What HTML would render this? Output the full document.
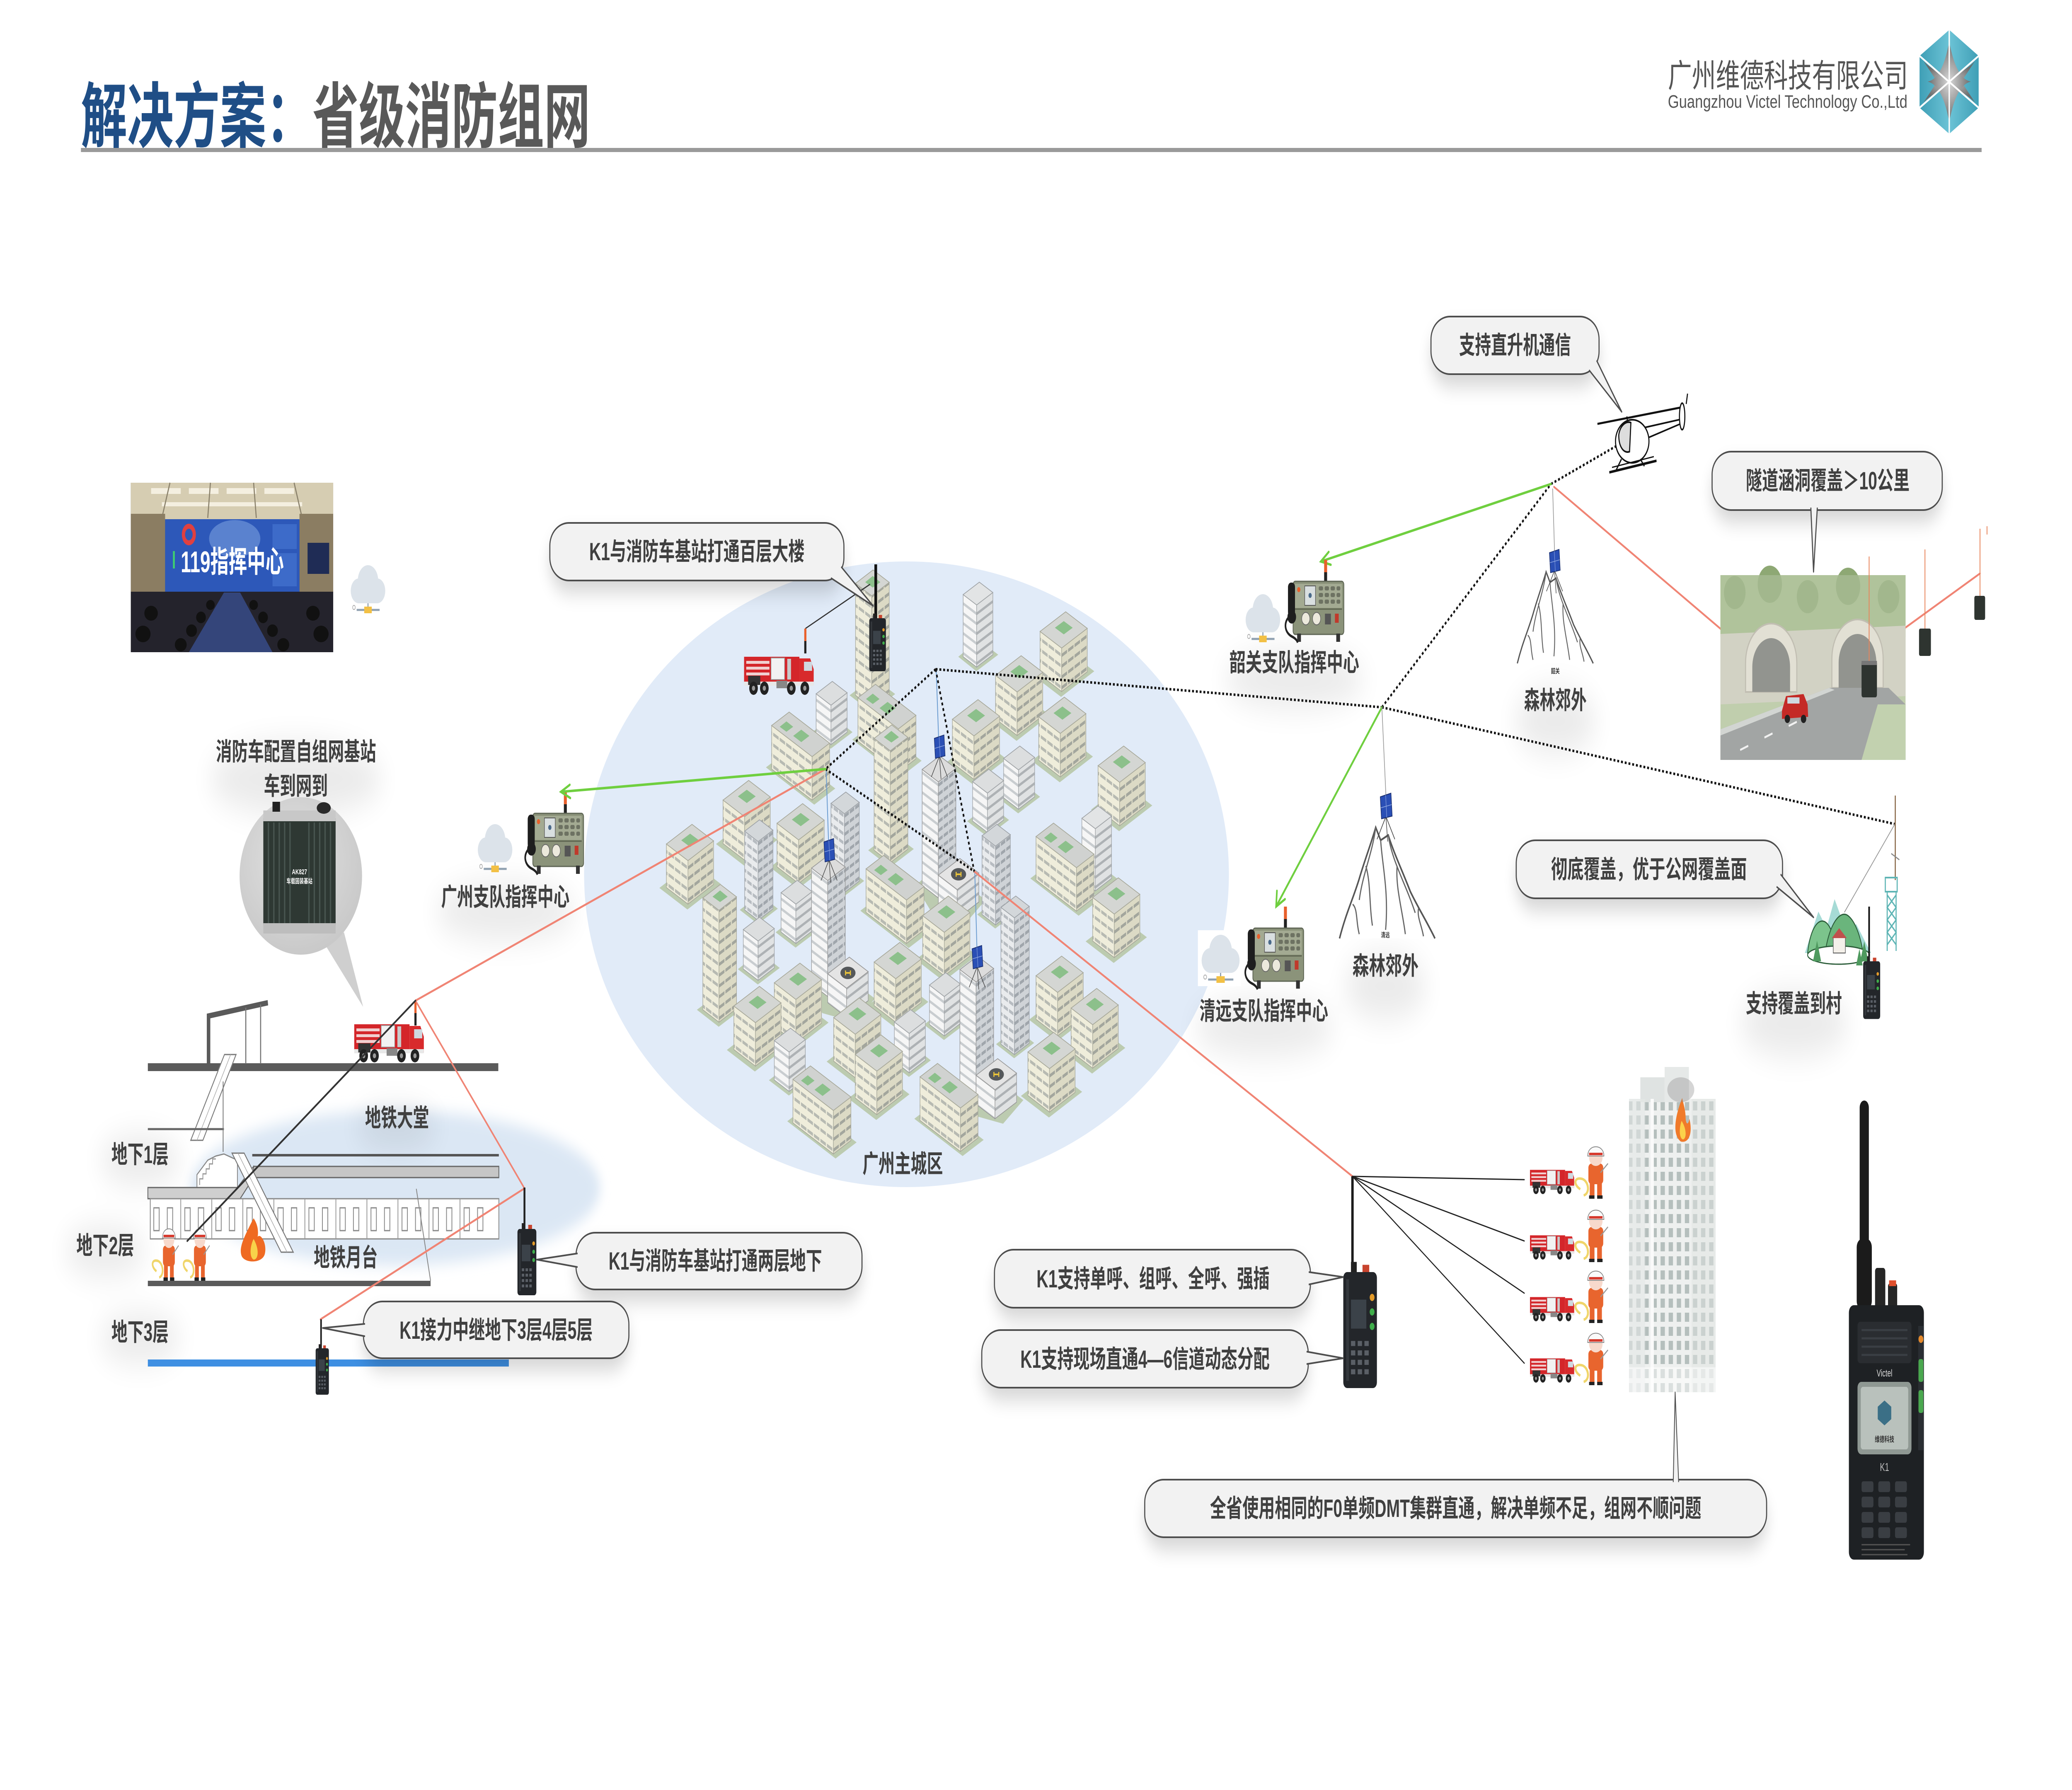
<!DOCTYPE html>
<html><head><meta charset="utf-8"><style>
html,body{margin:0;padding:0;background:#fff;width:100%;height:100%;overflow:hidden;}
svg{display:block;width:100vw;height:100vh;font-family:"Liberation Sans","Noto Sans CJK SC",sans-serif;}
.lb{font-size:60px;font-weight:700;fill:#404040;}
</style></head><body>
<svg viewBox="0 0 7680 4320" preserveAspectRatio="none" xmlns="http://www.w3.org/2000/svg" xmlns:xlink="http://www.w3.org/1999/xlink">
<defs>
<filter id="bl" x="-30%" y="-50%" width="160%" height="200%"><feGaussianBlur stdDeviation="25"/></filter>
<filter id="bl2" x="-30%" y="-80%" width="160%" height="260%"><feGaussianBlur stdDeviation="40"/></filter>
<filter id="bl3" x="-10%" y="-30%" width="120%" height="160%"><feGaussianBlur stdDeviation="18"/></filter>
<radialGradient id="gcirc" cx="0.45" cy="0.4" r="0.6"><stop offset="0" stop-color="#e2e2e2"/><stop offset="1" stop-color="#c9c9c9"/></radialGradient>
<linearGradient id="logoG" x1="0" y1="0" x2="1" y2="0"><stop offset="0" stop-color="#3f9fb6"/><stop offset="0.5" stop-color="#6cc3d6"/><stop offset="1" stop-color="#3f9fb6"/></linearGradient>
<radialGradient id="logoC" cx="0.5" cy="0.5" r="0.5"><stop offset="0" stop-color="#d8d8d8"/><stop offset="1" stop-color="#6b6b6b"/></radialGradient>
<pattern id="pBL" patternUnits="userSpaceOnUse" width="24" height="26" patternTransform="skewY(26.565)"><rect width="24" height="26" fill="#efeddb"/><rect y="13" width="24" height="8" fill="#b7bab2"/><rect x="20" y="13" width="4" height="8" fill="#efeddb"/></pattern>
<pattern id="pBR" patternUnits="userSpaceOnUse" width="24" height="26" patternTransform="skewY(-26.565)"><rect width="24" height="26" fill="#dcdac5"/><rect y="13" width="24" height="8" fill="#a3a69d"/><rect x="20" y="13" width="4" height="8" fill="#dcdac5"/></pattern>
<pattern id="pGL" patternUnits="userSpaceOnUse" width="20" height="22" patternTransform="skewY(26.565)"><rect width="20" height="22" fill="#e9ebed"/><rect y="10" width="20" height="8" fill="#b7bcc1"/><rect x="16" y="10" width="4" height="8" fill="#e9ebed"/></pattern>
<pattern id="pGR" patternUnits="userSpaceOnUse" width="20" height="22" patternTransform="skewY(-26.565)"><rect width="20" height="22" fill="#cfd3d7"/><rect y="10" width="20" height="8" fill="#a0a6ac"/><rect x="16" y="10" width="4" height="8" fill="#cfd3d7"/></pattern>
<pattern id="pWL" patternUnits="userSpaceOnUse" width="20" height="24" patternTransform="skewY(26.565)"><rect width="20" height="24" fill="#f6f6f6"/><rect y="12" width="20" height="7" fill="#c9cdd0"/></pattern>
<pattern id="pWR" patternUnits="userSpaceOnUse" width="20" height="24" patternTransform="skewY(-26.565)"><rect width="20" height="24" fill="#e0e2e3"/><rect y="12" width="20" height="7" fill="#aeb2b5"/></pattern>
<pattern id="winB" patternUnits="userSpaceOnUse" width="30" height="34"><rect width="30" height="34" fill="#eef0ef"/><rect x="5" y="6" width="16" height="22" fill="#b5bfbd"/></pattern>

<g id="b1">
<polygon points="-2,13 -106,-39 17,-101 121,-49" fill="#bccbb0"/>
<polygon points="0,0 -80,-40 -80,-145 0,-105" fill="url(#pBL)" stroke="#a8a99b" stroke-width="2"/>
<polygon points="0,0 95,-47.5 95,-152.5 0,-105" fill="url(#pBR)" stroke="#a8a99b" stroke-width="2"/>
<polygon points="0,-105 -80,-145 15,-192.5 95,-152.5" fill="#d4d6d3" stroke="#a8a99b" stroke-width="2"/>
<polygon points="8,-138 -25,-154 8,-170 41,-154" fill="#8cc08b"/>
</g>
<g id="b2">
<polygon points="-1,9 -68,-25 6,-62 73,-28" fill="#bccbb0"/>
<polygon points="0,0 -50,-25 -50,-355 0,-330" fill="url(#pGL)" stroke="#9ea3a8" stroke-width="2"/>
<polygon points="0,0 55,-27.5 55,-357.5 0,-330" fill="url(#pGR)" stroke="#9ea3a8" stroke-width="2"/>
<polygon points="0,-330 -50,-355 5,-382.5 55,-357.5" fill="#d3d7da" stroke="#9ea3a8" stroke-width="2"/>
</g>
<g id="b8">
<polygon points="-1,9 -68,-25 6,-62 73,-28" fill="#bccbb0"/>
<polygon points="0,0 -50,-25 -50,-215 0,-190" fill="url(#pGL)" stroke="#9ea3a8" stroke-width="2"/>
<polygon points="0,0 55,-27.5 55,-217.5 0,-190" fill="url(#pGR)" stroke="#9ea3a8" stroke-width="2"/>
<polygon points="0,-190 -50,-215 5,-242.5 55,-217.5" fill="#d3d7da" stroke="#9ea3a8" stroke-width="2"/>
</g>
<g id="b3">
<polygon points="-1,11 -82,-30 6,-73 87,-33" fill="#bccbb0"/>
<polygon points="0,0 -60,-30 -60,-300 0,-270" fill="url(#pBL)" stroke="#a8a99b" stroke-width="2"/>
<polygon points="0,0 65,-32.5 65,-302.5 0,-270" fill="url(#pBR)" stroke="#a8a99b" stroke-width="2"/>
<polygon points="0,-270 -60,-300 5,-332.5 65,-302.5" fill="#d4d6d3" stroke="#a8a99b" stroke-width="2"/>
<polygon points="4,-290 -24,-303 4,-318 32,-303" fill="#8cc08b"/>
</g>
<g id="b4">
<polygon points="-1,10 -75,-27 6,-68 80,-30" fill="#bccbb0"/>
<polygon points="0,0 -55,-27.5 -55,-122.5 0,-95" fill="url(#pWL)" stroke="#a0a4a7" stroke-width="2"/>
<polygon points="0,0 60,-30 60,-125 0,-95" fill="url(#pWR)" stroke="#a0a4a7" stroke-width="2"/>
<polygon points="0,-95 -55,-122.5 5,-152.5 60,-125" fill="#dcdedf" stroke="#a0a4a7" stroke-width="2"/>
</g>
<g id="b5">
<polygon points="8,11 -171,-79 -93,-118 86,-28" fill="#bccbb0"/>
<polygon points="0,0 -150,-75 -150,-180 0,-105" fill="url(#pBL)" stroke="#a8a99b" stroke-width="2"/>
<polygon points="0,0 65,-32.5 65,-137.5 0,-105" fill="url(#pBR)" stroke="#a8a99b" stroke-width="2"/>
<polygon points="0,-105 -150,-180 -85,-212.5 65,-137.5" fill="#d0d2d0" stroke="#a8a99b" stroke-width="2"/>
<polygon points="-40,-140 -70,-155 -40,-170 -10,-155" fill="#8cc08b"/>
<polygon points="-95,-165 -120,-177 -95,-190 -70,-177" fill="#8cc08b"/>
</g>
<g id="b6">
<polygon points="-20,40 -85,-30 5,-80 175,5 100,62" fill="#bccbb0"/>
<polygon points="0,0 -60,-30 -60,-310 0,-280" fill="url(#pWL)" stroke="#999" stroke-width="2"/>
<polygon points="0,0 65,-32.5 65,-312.5 0,-280" fill="url(#pGR)" stroke="#999" stroke-width="2"/>
<polygon points="0,-280 -60,-310 5,-342.5 65,-312.5" fill="#dcdcdc" stroke="#999" stroke-width="2"/>
<polygon points="70,50 0,15 0,-55 70,-20" fill="url(#pWL)" stroke="#999" stroke-width="2"/>
<polygon points="70,50 150,10 150,-60 70,-20" fill="url(#pWR)" stroke="#999" stroke-width="2"/>
<polygon points="70,-20 0,-55 80,-95 150,-60" fill="#e4e4e4" stroke="#999" stroke-width="2"/>
<ellipse cx="75" cy="-57" rx="28" ry="15" fill="#55585a"/>
<path d="M66,-63 V-51 M84,-63 V-51 M66,-57 H84" stroke="#e8c23a" stroke-width="4"/>
</g>
<g id="b7">
<polygon points="-1,10 -68,-25 8,-66 80,-30" fill="#bccbb0"/>
<polygon points="0,0 -50,-25 -50,-175 0,-150" fill="url(#pWL)" stroke="#a0a4a7" stroke-width="2"/>
<polygon points="0,0 60,-30 60,-180 0,-150" fill="url(#pWR)" stroke="#a0a4a7" stroke-width="2"/>
<polygon points="0,-150 -50,-175 10,-205 60,-180" fill="#e2e4e5" stroke="#a0a4a7" stroke-width="2"/>
</g>

<g id="truck">
<rect x="0" y="10" width="205" height="62" fill="#d4262a"/>
<rect x="8" y="20" width="86" height="7" fill="#f0d0d0"/>
<rect x="8" y="34" width="86" height="7" fill="#f0d0d0"/>
<rect x="8" y="48" width="86" height="7" fill="#f0d0d0"/>
<rect x="100" y="13" width="50" height="52" fill="#f2f2f2" stroke="#999" stroke-width="2"/>
<rect x="160" y="15" width="14" height="50" fill="#c9c9c9"/>
<path d="M205,14 H245 L258,40 V78 H205Z" fill="#d82a2c"/>
<rect x="222" y="22" width="30" height="22" fill="#cfd9e0"/>
<rect x="0" y="70" width="258" height="10" fill="#e8e8e8"/>
<rect x="15" y="56" width="45" height="22" fill="#333"/>
<rect x="120" y="68" width="40" height="18" fill="#888"/>
<circle cx="35" cy="86" r="16" fill="#222"/><circle cx="75" cy="86" r="16" fill="#222"/><circle cx="175" cy="86" r="16" fill="#222"/><circle cx="225" cy="86" r="16" fill="#222"/>
<circle cx="35" cy="86" r="6" fill="#999"/><circle cx="75" cy="86" r="6" fill="#999"/><circle cx="175" cy="86" r="6" fill="#999"/><circle cx="225" cy="86" r="6" fill="#999"/>
</g>
<g id="radio">
<rect x="16" y="-14" width="12" height="16" fill="#222"/>
<rect x="40" y="-10" width="14" height="12" fill="#c8442e"/>
<rect x="0" y="0" width="70" height="160" rx="8" fill="#23262a"/>
<rect x="6" y="10" width="6" height="140" fill="#34383d"/>
<rect x="16" y="38" width="32" height="40" fill="#3b4249"/>
<circle cx="60" cy="35" r="5" fill="#e39b2a"/><circle cx="60" cy="55" r="5" fill="#3fae4b"/><circle cx="60" cy="75" r="5" fill="#3fae4b"/>
<g fill="#5a5f66"><rect x="16" y="95" width="9" height="7"/><rect x="30" y="95" width="9" height="7"/><rect x="44" y="95" width="9" height="7"/><rect x="16" y="108" width="9" height="7"/><rect x="30" y="108" width="9" height="7"/><rect x="44" y="108" width="9" height="7"/><rect x="16" y="121" width="9" height="7"/><rect x="30" y="121" width="9" height="7"/><rect x="44" y="121" width="9" height="7"/><rect x="16" y="134" width="9" height="7"/><rect x="30" y="134" width="9" height="7"/><rect x="44" y="134" width="9" height="7"/></g>
</g>
<g id="cmd">
<rect x="160" y="0" width="11" height="30" fill="#e8602c"/>
<rect x="160" y="30" width="11" height="25" fill="#222"/>
<rect x="45" y="52" width="188" height="128" rx="8" fill="#8b937a" stroke="#5f6655" stroke-width="3"/>
<rect x="52" y="58" width="174" height="58" fill="#a3aa92"/>
<rect x="88" y="63" width="40" height="47" fill="#d9dfe0" stroke="#555" stroke-width="2"/>
<circle cx="108" cy="86" r="6" fill="#4a6a8a"/>
<g fill="#6d7262"><rect x="140" y="64" width="16" height="10" rx="4"/><rect x="162" y="64" width="16" height="10" rx="4"/><rect x="184" y="64" width="16" height="10" rx="4"/><rect x="206" y="64" width="14" height="10" rx="4"/><rect x="140" y="80" width="16" height="10" rx="4"/><rect x="162" y="80" width="16" height="10" rx="4"/><rect x="184" y="80" width="16" height="10" rx="4"/><rect x="206" y="80" width="14" height="10" rx="4"/><rect x="140" y="96" width="16" height="10" rx="4"/><rect x="162" y="96" width="16" height="10" rx="4"/><rect x="184" y="96" width="16" height="10" rx="4"/><rect x="206" y="96" width="14" height="10" rx="4"/></g>
<line x1="52" y1="119" x2="226" y2="119" stroke="#5c634f" stroke-width="3"/>
<circle cx="92" cy="142" r="15" fill="#ece9dc" stroke="#666" stroke-width="2"/><circle cx="132" cy="142" r="15" fill="#ece9dc" stroke="#666" stroke-width="2"/>
<rect x="163" y="130" width="22" height="26" fill="#555"/>
<rect x="200" y="130" width="14" height="22" fill="#c0392b"/>
<rect x="60" y="178" width="14" height="20" fill="#333"/><rect x="205" y="178" width="14" height="20" fill="#333"/>
<rect x="26" y="55" width="26" height="82" rx="11" fill="#1e1e1e"/>
<circle cx="40" cy="138" r="16" fill="#1e1e1e"/>
<path d="M30,138 C10,150 12,175 40,185 C55,190 60,195 62,200" fill="none" stroke="#222" stroke-width="6"/>
<circle cx="66" cy="72" r="6" fill="#e8602c"/>
</g>
<g id="cloud">
<circle cx="72" cy="42" r="38" fill="#dce3ea"/>
<circle cx="38" cy="66" r="30" fill="#dce3ea"/>
<circle cx="106" cy="66" r="30" fill="#dce3ea"/>
<rect x="38" y="55" width="68" height="41" fill="#dce3ea"/>
<line x1="72" y1="96" x2="72" y2="112" stroke="#8fa0b0" stroke-width="4"/>
<line x1="30" y1="112" x2="115" y2="112" stroke="#8fa0b0" stroke-width="5"/>
<rect x="58" y="104" width="28" height="16" fill="#f2c045"/>
<circle cx="20" cy="106" r="5" fill="none" stroke="#aaa" stroke-width="2"/>
</g>
<g id="mtn">
<path d="M0,260 C20,200 40,170 60,120 C75,80 95,40 110,0 L125,30 L148,18 C165,60 190,100 215,150 C240,190 265,220 290,260" fill="#fff" stroke="#555" stroke-width="4.5"/>
<path d="M110,0 C100,60 70,110 60,170 M125,30 C130,90 150,150 140,240 M148,18 C160,80 200,130 230,200 M80,90 C95,130 90,180 100,230 M175,90 C170,140 190,190 200,250 M40,180 C55,190 50,220 60,250 M240,190 C235,210 250,230 255,255" fill="none" stroke="#666" stroke-width="3.5"/>
</g>
<g id="solar">
<line x1="0" y1="-5" x2="-30" y2="45" stroke="#444" stroke-width="2"/><line x1="0" y1="-5" x2="30" y2="45" stroke="#444" stroke-width="2"/><line x1="0" y1="-5" x2="6" y2="50" stroke="#444" stroke-width="2"/>
<polygon points="-19,-48 17,-56 21,-6 -15,0" fill="#2a4fb5" stroke="#1a2f70" stroke-width="2"/>
<path d="M-17,-24 L19,-31 M-1,-52 L3,-3" stroke="#8fa8e0" stroke-width="1.5"/>
</g>
<g id="ff">
<path d="M-10,110 C-30,100 -30,80 -5,85 C15,90 20,120 0,125" fill="none" stroke="#f0d56a" stroke-width="6"/>
<rect x="14" y="48" width="44" height="50" rx="10" fill="#e8652e"/>
<rect x="18" y="95" width="14" height="32" fill="#e8652e"/><rect x="40" y="95" width="14" height="32" fill="#e8652e"/>
<rect x="16" y="125" width="16" height="8" fill="#222"/><rect x="40" y="125" width="16" height="8" fill="#222"/>
<circle cx="36" cy="34" r="20" fill="#f7d9cc"/>
<path d="M12,30 C12,0 60,0 60,30 Z" fill="#fafafa" stroke="#888" stroke-width="2"/>
<rect x="16" y="22" width="40" height="6" fill="#d63a2e"/>
<line x1="50" y1="70" x2="72" y2="48" stroke="#999" stroke-width="3"/>
</g>
</defs>

<rect width="7680" height="4320" fill="#ffffff"/>

<!-- HEADER -->
<text x="300" y="342" font-size="172" font-weight="700" textLength="1888" lengthAdjust="spacingAndGlyphs"><tspan fill="#1f4e86">解决方案：</tspan><tspan fill="#595959">省级消防组网</tspan></text>
<rect x="300" y="357" width="7045" height="10" fill="#9a9a9a"/>
<text x="6182" y="210" font-size="78" fill="#555" textLength="890" lengthAdjust="spacingAndGlyphs">广州维德科技有限公司</text>
<text x="6182" y="260" font-size="44" fill="#555" textLength="888" lengthAdjust="spacingAndGlyphs">Guangzhou Victel Technology Co.,Ltd</text>
<polygon points="7225,72 7334,135 7334,260 7225,323 7115,260 7115,135" fill="url(#logoG)"/>
<path d="M7130,148 Q7225,210 7320,148 Q7270,197 7270,197 L7320,247 Q7225,185 7130,247 Q7180,197 7180,197 Z" fill="url(#logoC)"/>
<path d="M7225,100 Q7250,190 7305,197 Q7250,205 7225,295 Q7200,205 7145,197 Q7200,190 7225,100Z" fill="url(#logoC)"/>
<path d="M7115,135 L7334,260 M7334,135 L7115,260 M7225,72 L7225,323" stroke="#fff" stroke-width="5"/>

<!-- CITY ELLIPSE -->
<ellipse cx="3360" cy="2110" rx="1195" ry="755" fill="#e1ebf8"/>
<!-- subway ellipse -->
<ellipse cx="1465" cy="2867" rx="760" ry="187" fill="#dbe7f4" filter="url(#bl3)"/>

<!-- label hazes -->
<g fill="#000" opacity="0.08" filter="url(#bl2)">
<ellipse cx="1097" cy="1880" rx="320" ry="90"/>
<ellipse cx="1873" cy="2200" rx="260" ry="70"/>
<ellipse cx="4797" cy="1640" rx="260" ry="70"/>
<ellipse cx="4685" cy="2480" rx="260" ry="70"/>
<ellipse cx="5765" cy="1740" rx="150" ry="80"/>
<ellipse cx="5135" cy="2380" rx="150" ry="80"/>
<ellipse cx="6650" cy="2470" rx="200" ry="80"/>
<ellipse cx="520" cy="2800" rx="150" ry="60"/>
<ellipse cx="390" cy="3020" rx="150" ry="60"/>
<ellipse cx="520" cy="3230" rx="150" ry="60"/>
<ellipse cx="1470" cy="2720" rx="150" ry="50"/>
</g>

<!-- 119 photo -->
<g>
<rect x="485" y="1165" width="750" height="409" fill="#3b3631"/>
<polygon points="485,1165 1235,1165 1235,1240 1150,1255 570,1255 485,1240" fill="#d6cdb2"/>
<g fill="#f4efe0"><rect x="560" y="1178" width="110" height="14"/><rect x="700" y="1178" width="110" height="14"/><rect x="840" y="1178" width="110" height="14"/><rect x="980" y="1178" width="110" height="14"/><rect x="600" y="1212" width="520" height="10"/></g>
<g stroke="#8b826c" stroke-width="4"><line x1="630" y1="1165" x2="600" y2="1250"/><line x1="780" y1="1165" x2="770" y2="1250"/><line x1="940" y1="1165" x2="950" y2="1250"/><line x1="1090" y1="1165" x2="1120" y2="1250"/></g>
<rect x="485" y="1240" width="127" height="190" fill="#8b7d62"/>
<rect x="1110" y="1240" width="125" height="190" fill="#8b7d62"/>
<rect x="612" y="1253" width="498" height="175" fill="#2d58b9"/>
<ellipse cx="870" cy="1300" rx="95" ry="45" fill="#5a82cf"/>
<circle cx="700" cy="1290" r="20" fill="none" stroke="#e04040" stroke-width="12"/>
<rect x="641" y="1330" width="7" height="42" fill="#3fcf6f"/>
<g fill="#3d6bc9"><rect x="1010" y="1265" width="90" height="60"/><rect x="1010" y="1335" width="90" height="80"/></g>
<rect x="1140" y="1310" width="80" height="75" fill="#1f2c55"/>
<rect x="485" y="1428" width="750" height="146" fill="#24232c"/>
<polygon points="830,1430 890,1430 1010,1574 700,1574" fill="#34457a"/>
<g fill="#111"><ellipse cx="780" cy="1460" rx="16" ry="12"/><ellipse cx="745" cy="1490" rx="18" ry="14"/><ellipse cx="710" cy="1522" rx="20" ry="15"/><ellipse cx="670" cy="1556" rx="22" ry="16"/><ellipse cx="940" cy="1460" rx="16" ry="12"/><ellipse cx="975" cy="1490" rx="18" ry="14"/><ellipse cx="1010" cy="1522" rx="20" ry="15"/><ellipse cx="1050" cy="1556" rx="22" ry="16"/><ellipse cx="560" cy="1480" rx="25" ry="18"/><ellipse cx="530" cy="1530" rx="28" ry="20"/><ellipse cx="1160" cy="1480" rx="25" ry="18"/><ellipse cx="1190" cy="1530" rx="28" ry="20"/></g>
<text x="670" y="1381" font-size="72" font-weight="700" fill="#fff" textLength="382" lengthAdjust="spacingAndGlyphs">119指挥中心</text>
</g>
<use href="#cloud" x="1292" y="1360"/>

<!-- base station bubble -->
<text class="lb" x="800" y="1835" textLength="594" lengthAdjust="spacingAndGlyphs">消防车配置自组网基站</text>
<text class="lb" x="978" y="1918" textLength="237" lengthAdjust="spacingAndGlyphs">车到网到</text>
<polygon points="1205,2280 1275,2250 1346,2430" fill="#cfcfcf"/>
<ellipse cx="1115" cy="2114" rx="227" ry="190" fill="url(#gcirc)"/>
<rect x="976" y="1975" width="268" height="258" fill="#2e3833"/>
<g stroke="#485550" stroke-width="5"><line x1="995" y1="1985" x2="995" y2="2228"/><line x1="1015" y1="1985" x2="1015" y2="2228"/><line x1="1035" y1="1985" x2="1035" y2="2228"/><line x1="1055" y1="1985" x2="1055" y2="2228"/><line x1="1075" y1="1985" x2="1075" y2="2228"/><line x1="1145" y1="1985" x2="1145" y2="2228"/><line x1="1165" y1="1985" x2="1165" y2="2228"/><line x1="1185" y1="1985" x2="1185" y2="2228"/><line x1="1205" y1="1985" x2="1205" y2="2228"/><line x1="1225" y1="1985" x2="1225" y2="2228"/></g>
<rect x="976" y="1956" width="268" height="26" fill="#c8c8c8"/>
<rect x="976" y="2228" width="268" height="25" fill="#bdbdbd"/>
<rect x="1010" y="1935" width="28" height="24" fill="#222"/>
<ellipse cx="1200" cy="1950" rx="26" ry="14" fill="#2a2a2a"/>
<text x="1110" y="2110" font-size="18" font-weight="700" fill="#fff" text-anchor="middle">AK827</text>
<text x="1110" y="2132" font-size="16" font-weight="700" fill="#fff" text-anchor="middle">车载固装基站</text>

<!-- 广州支队 -->
<use href="#cloud" x="1763" y="1985"/>
<use href="#cmd" x="1930" y="1911"/>
<text class="lb" x="1635" y="2186" textLength="476" lengthAdjust="spacingAndGlyphs">广州支队指挥中心</text>

<!-- SUBWAY -->
<rect x="548" y="2566" width="1299" height="19" fill="#5b5b5b"/>
<polyline points="773,2567 773,2452 993,2420" fill="none" stroke="#5a5a5a" stroke-width="13"/>
<line x1="911" y1="2432" x2="911" y2="2567" stroke="#777" stroke-width="4"/>
<line x1="966" y1="2424" x2="966" y2="2567" stroke="#777" stroke-width="4"/>
<polygon points="832,2545 875,2545 752,2752 707,2752" fill="#fff" stroke="#7a7a7a" stroke-width="3"/>
<line x1="855" y1="2545" x2="730" y2="2752" stroke="#aaa" stroke-width="2"/>
<line x1="548" y1="2725" x2="830" y2="2725" stroke="#666" stroke-width="5"/>
<line x1="827" y1="2610" x2="827" y2="2780" stroke="#777" stroke-width="3"/>
<polygon points="730,2868 730,2835 770,2800 800,2790 830,2785 880,2800 880,2868" fill="#fff" stroke="#888" stroke-width="3"/>
<path d="M740,2860 v-15 h12 v-12 h12 v-12 h12 v-12 h12 v-12 h12" fill="none" stroke="#999" stroke-width="3"/>
<line x1="935" y1="2788" x2="1849" y2="2788" stroke="#555" stroke-width="6"/>
<rect x="940" y="2815" width="909" height="27" fill="#c6c6c6" stroke="#666" stroke-width="3"/>
<polygon points="548,2866 880,2866 940,2815 940,2842 890,2893 548,2893" fill="#cfcfcf" stroke="#666" stroke-width="3"/>
<rect x="557" y="2893" width="1292" height="97" fill="#fff" stroke="#8a8a8a" stroke-width="3"/>
<g stroke="#9a9a9a" stroke-width="3" fill="none">
<line x1="670" y1="2893" x2="670" y2="2990"/><line x1="785" y1="2893" x2="785" y2="2990"/><line x1="900" y1="2893" x2="900" y2="2990"/><line x1="1015" y1="2893" x2="1015" y2="2990"/><line x1="1130" y1="2893" x2="1130" y2="2990"/><line x1="1245" y1="2893" x2="1245" y2="2990"/><line x1="1360" y1="2893" x2="1360" y2="2990"/><line x1="1475" y1="2893" x2="1475" y2="2990"/><line x1="1590" y1="2893" x2="1590" y2="2990"/><line x1="1705" y1="2893" x2="1705" y2="2990"/>
</g>
<g fill="none" stroke="#8a8a8a" stroke-width="3">
<rect x="570" y="2915" width="20" height="55"/><rect x="620" y="2915" width="20" height="55"/><rect x="685" y="2915" width="20" height="55"/><rect x="735" y="2915" width="20" height="55"/><rect x="800" y="2915" width="20" height="55"/><rect x="850" y="2915" width="20" height="55"/><rect x="915" y="2915" width="20" height="55"/><rect x="965" y="2915" width="20" height="55"/><rect x="1030" y="2915" width="20" height="55"/><rect x="1080" y="2915" width="20" height="55"/><rect x="1145" y="2915" width="20" height="55"/><rect x="1195" y="2915" width="20" height="55"/><rect x="1260" y="2915" width="20" height="55"/><rect x="1310" y="2915" width="20" height="55"/><rect x="1375" y="2915" width="20" height="55"/><rect x="1425" y="2915" width="20" height="55"/><rect x="1490" y="2915" width="20" height="55"/><rect x="1540" y="2915" width="20" height="55"/><rect x="1605" y="2915" width="20" height="55"/><rect x="1655" y="2915" width="20" height="55"/><rect x="1720" y="2915" width="20" height="55"/><rect x="1770" y="2915" width="20" height="55"/>
</g>
<polygon points="860,2783 905,2783 1087,3022 1042,3022" fill="#fff" stroke="#777" stroke-width="3"/>
<line x1="882" y1="2783" x2="1064" y2="3022" stroke="#aaa" stroke-width="2"/>
<line x1="1543" y1="2869" x2="1596" y2="3091" stroke="#888" stroke-width="3"/>
<rect x="548" y="3091" width="1048" height="13" fill="#5b5b5b"/>
<rect x="548" y="3281" width="1338" height="17" fill="#3e8fe2"/>
<use href="#ff" x="590" y="2958"/>
<use href="#ff" x="705" y="2958"/>
<path d="M940,2940 C905,2985 885,3010 895,3030 C905,3050 975,3050 982,3025 C990,3000 965,2975 955,2985 C960,2965 950,2950 940,2940Z" fill="#ef6a22"/>
<path d="M940,2990 C925,3010 925,3035 940,3040 C958,3040 962,3015 940,2990Z" fill="#f8d24a"/>
<text class="lb" x="1353" y="2719" textLength="237" lengthAdjust="spacingAndGlyphs">地铁大堂</text>
<text class="lb" x="1163" y="3056" textLength="237" lengthAdjust="spacingAndGlyphs">地铁月台</text>
<text class="lb" x="413" y="2807" textLength="212" lengthAdjust="spacingAndGlyphs">地下1层</text>
<text class="lb" x="283" y="3027" textLength="214" lengthAdjust="spacingAndGlyphs">地下2层</text>
<text class="lb" x="413" y="3236" textLength="212" lengthAdjust="spacingAndGlyphs">地下3层</text>

<!-- truck on street -->
<rect x="1536" y="2415" width="8" height="30" fill="#e8602c"/><rect x="1536" y="2445" width="8" height="30" fill="#222"/>
<use href="#truck" x="1313" y="2462"/>

<!-- CITY BUILDINGS -->
<use href="#b7" x="3620" y="1610"/>
<use href="#b1" x="3935" y="1669"/>
<use href="#b3" x="3231" y="1708"/>
<use href="#b1" x="3770" y="1775"/>
<use href="#b4" x="3080" y="1797"/>
<use href="#b5" x="3330" y="1864"/>
<use href="#b1" x="3930" y="1875"/>
<use href="#b1" x="3610" y="1881"/>
<use href="#b5" x="3010" y="1931"/>
<use href="#b4" x="3775" y="1953"/>
<use href="#b1" x="4150" y="1993"/>
<use href="#b4" x="3660" y="2009"/>
<use href="#b1" x="2760" y="2076"/>
<use href="#b3" x="3300" y="2082"/>
<use href="#b1" x="2960" y="2132"/>
<use href="#b7" x="4060" y="2150"/>
<use href="#b8" x="3130" y="2154"/>
<use href="#b6" x="3478" y="2167"/>
<use href="#b1" x="2550" y="2182"/>
<use href="#b5" x="3990" y="2199"/>
<use href="#b8" x="2810" y="2221"/>
<use href="#b8" x="3690" y="2232"/>
<use href="#b4" x="2950" y="2277"/>
<use href="#b5" x="3360" y="2277"/>
<use href="#b1" x="4130" y="2311"/>
<use href="#b1" x="3500" y="2355"/>
<use href="#b4" x="2810" y="2366"/>
<use href="#b6" x="3068" y="2405"/>
<use href="#b3" x="2665" y="2467"/>
<use href="#b1" x="3320" y="2467"/>
<use href="#b1" x="3920" y="2500"/>
<use href="#b4" x="3500" y="2500"/>
<use href="#b1" x="2950" y="2517"/>
<use href="#b2" x="3760" y="2545"/>
<use href="#b1" x="2800" y="2573"/>
<use href="#b1" x="4050" y="2578"/>
<use href="#b4" x="3370" y="2589"/>
<use href="#b1" x="3170" y="2601"/>
<use href="#b4" x="2925" y="2634"/>
<use href="#b6" x="3618" y="2650"/>
<use href="#b1" x="3890" y="2684"/>
<use href="#b1" x="3250" y="2690"/>
<use href="#b5" x="3560" y="2779"/>
<use href="#b5" x="3089" y="2785"/>
<text class="lb" x="3197" y="2830" textLength="298" lengthAdjust="spacingAndGlyphs">广州主城区</text>

<!-- city truck + radio -->
<line x1="2985" y1="1517" x2="3225" y2="1410" stroke="#333" stroke-width="3"/>
<rect x="2981" y="1517" width="8" height="30" fill="#e8602c"/><rect x="2981" y="1547" width="8" height="30" fill="#222"/>
<use href="#truck" x="2758" y="1575"/>
<line x1="3246" y1="1362" x2="3246" y2="1500" stroke="#111" stroke-width="10"/>
<use href="#radio" transform="translate(3222,1492) scale(0.88,0.8)"/>

<!-- solar panels & node masts -->
<g stroke="#6a9bd0" stroke-width="3">
<line x1="3470" y1="1615" x2="3480" y2="1800"/>
<line x1="3062" y1="1856" x2="3072" y2="2050"/>
<line x1="3613" y1="2103" x2="3622" y2="2310"/>
</g>
<use href="#solar" x="3482" y="1830"/>
<use href="#solar" x="3073" y="2080"/>
<use href="#solar" x="3622" y="2338"/>

<!-- CONNECTORS -->
<g fill="none" stroke-linecap="round">
<g stroke="#f08474" stroke-width="5">
<line x1="1540" y1="2415" x2="3060" y2="1856"/>
<line x1="1540" y1="2415" x2="1944" y2="2868"/>
<line x1="1944" y1="2868" x2="1188" y2="3184"/>
<line x1="3611" y1="2103" x2="5013" y2="2839"/>
<line x1="5760" y1="1175" x2="6690" y2="1691"/>
<line x1="6690" y1="1691" x2="7339" y2="1384"/>
</g>
<line x1="1540" y1="2415" x2="694" y2="2995" stroke="#333" stroke-width="5"/>
<g stroke="#111" stroke-width="6" stroke-dasharray="7 7" stroke-linecap="butt">
<line x1="3468" y1="1615" x2="3060" y2="1856"/>
<line x1="3060" y1="1856" x2="3611" y2="2103"/>
<line x1="3468" y1="1615" x2="3611" y2="2103"/>
<line x1="3468" y1="1615" x2="5122" y2="1707"/>
<line x1="5122" y1="1707" x2="7025" y2="1989"/>
<line x1="5122" y1="1707" x2="5749" y2="1168"/>
<line x1="5749" y1="1168" x2="6000" y2="1073"/>
</g>
<g stroke="#6fcf3f" stroke-width="6">
<line x1="3060" y1="1856" x2="2079" y2="1911"/>
<polyline points="2112,1894 2079,1911 2114,1926"/>
<line x1="5749" y1="1168" x2="4896" y2="1355"/>
<polyline points="4925,1332 4896,1355 4933,1363"/>
<line x1="5122" y1="1707" x2="4730" y2="2188"/>
<polyline points="4733,2150 4730,2188 4763,2170"/>
</g>
<g stroke="#999" stroke-width="2.5">
<line x1="5755" y1="1180" x2="5762" y2="1330"/>
<line x1="5122" y1="1707" x2="5137" y2="1920"/>
<line x1="7025" y1="1987" x2="6837" y2="2201"/>
</g>
<g stroke="#222" stroke-width="3">
<line x1="5013" y1="2839" x2="5650" y2="2847"/>
<line x1="5013" y1="2839" x2="5650" y2="2995"/>
<line x1="5013" y1="2839" x2="5650" y2="3121"/>
<line x1="5013" y1="2839" x2="5650" y2="3290"/>
</g>
</g>

<!-- subway radios -->
<line x1="1944" y1="2866" x2="1944" y2="2970" stroke="#222" stroke-width="7"/>
<use href="#radio" x="1918" y="2966"/>
<line x1="1190" y1="3184" x2="1190" y2="3256" stroke="#222" stroke-width="6"/>
<use href="#radio" transform="translate(1170,3254) scale(0.7)"/>

<!-- 韶关 -->
<use href="#cloud" x="4609" y="1430"/>
<use href="#cmd" x="4748" y="1351"/>
<text class="lb" x="4557" y="1620" textLength="481" lengthAdjust="spacingAndGlyphs">韶关支队指挥中心</text>

<!-- mountains -->
<use href="#mtn" transform="translate(5624,1380) scale(0.97,0.85)"/>
<use href="#solar" x="5762" y="1382"/>
<text x="5765" y="1625" font-size="16" font-weight="700" fill="#333" text-anchor="middle">韶关</text>
<text class="lb" x="5649" y="1711" textLength="232" lengthAdjust="spacingAndGlyphs">森林郊外</text>
<use href="#mtn" transform="translate(4965,1997) scale(1.22,1.03)"/>
<use href="#solar" transform="translate(5137,1976) scale(1.1)"/>
<text x="5135" y="2262" font-size="16" font-weight="700" fill="#333" text-anchor="middle">清远</text>
<text class="lb" x="5013" y="2352" textLength="245" lengthAdjust="spacingAndGlyphs">森林郊外</text>

<!-- 清远 -->
<rect x="4440" y="2245" width="160" height="135" fill="#fff"/>
<use href="#cloud" transform="translate(4445,2252) scale(1.1,1.0)"/>
<use href="#cmd" x="4599" y="2188"/>
<text class="lb" x="4446" y="2461" textLength="477" lengthAdjust="spacingAndGlyphs">清远支队指挥中心</text>

<!-- helicopter -->
<g stroke="#111" stroke-width="4" fill="#fff">
<line x1="5921" y1="1023" x2="6241" y2="982" stroke-width="5"/>
<line x1="6030" y1="1005" x2="6035" y2="1030"/>
<path d="M6040,1040 L6230,1012 L6232,1022 L6060,1070 Z"/>
<ellipse cx="6235" cy="1005" rx="10" ry="32"/>
<line x1="6250" y1="975" x2="6255" y2="950"/>
<ellipse cx="6050" cy="1065" rx="62" ry="52"/>
<path d="M6000,1050 C6005,1025 6030,1015 6045,1020 L6040,1090 C6020,1095 6000,1080 6000,1050Z" fill="#ddd"/>
<line x1="6010" y1="1108" x2="5990" y2="1135"/>
<line x1="6080" y1="1108" x2="6095" y2="1125"/>
<path d="M5965,1140 L6140,1112" stroke-width="6"/>
<path d="M5975,1128 L6130,1102" stroke-width="3"/>
</g>

<!-- tunnel photo -->
<g>
<rect x="6377" y="1388" width="686" height="446" fill="#b2c49c"/>
<rect x="6377" y="1388" width="686" height="150" fill="#9fb685"/>
<g fill="#8ea874"><circle cx="6430" cy="1430" r="40"/><circle cx="6560" cy="1410" r="45"/><circle cx="6700" cy="1440" r="40"/><circle cx="6850" cy="1415" r="45"/><circle cx="7000" cy="1440" r="40"/></g>
<polygon points="6377,1530 7063,1510 7063,1680 6377,1700" fill="#c9c8b8"/>
<path d="M6470,1670 V1600 A95,95 0 0 1 6660,1600 V1670 Z" fill="#dcd9cb" stroke="#b4b0a2" stroke-width="4"/>
<path d="M6495,1670 V1610 A70,70 0 0 1 6635,1610 V1670 Z" fill="#7b7d77"/>
<path d="M6790,1660 V1590 A95,95 0 0 1 6980,1590 V1660 Z" fill="#dcd9cb" stroke="#b4b0a2" stroke-width="4"/>
<path d="M6815,1660 V1600 A70,70 0 0 1 6955,1600 V1660 Z" fill="#7b7d77"/>
<polygon points="6377,1834 6377,1760 6780,1660 7000,1660 7063,1700 7063,1834" fill="#8e9290"/>
<polygon points="6377,1760 6780,1660 6800,1665 6377,1775" fill="#c9ccc9"/>
<polygon points="6960,1700 7063,1700 7063,1834 6900,1834" fill="#b5c79e"/>
<g stroke="#eee" stroke-width="5"><line x1="6450" y1="1810" x2="6480" y2="1800"/><line x1="6540" y1="1780" x2="6570" y2="1770"/><line x1="6630" y1="1752" x2="6660" y2="1742"/></g>
<rect x="6377" y="1388" width="686" height="446" fill="#fff" opacity="0.18"/>
<path d="M6605,1715 L6620,1680 L6685,1675 L6700,1700 L6702,1730 L6605,1735 Z" fill="#c42a26"/>
<rect x="6625" y="1683" width="45" height="15" fill="#cfd8e0"/>
<circle cx="6625" cy="1735" r="10" fill="#222"/><circle cx="6685" cy="1735" r="10" fill="#222"/>
</g>
<g>
<line x1="6928" y1="1343" x2="6928" y2="1595" stroke="#e8845a" stroke-width="3"/>
<rect x="6900" y="1595" width="57" height="88" rx="6" fill="#2e3430"/><rect x="6900" y="1595" width="57" height="10" fill="#777"/>
<line x1="7135" y1="1326" x2="7135" y2="1517" stroke="#e8845a" stroke-width="3"/>
<rect x="7113" y="1517" width="44" height="66" rx="5" fill="#2e3430"/>
<line x1="7339" y1="1276" x2="7339" y2="1438" stroke="#e8845a" stroke-width="3"/>
<rect x="7318" y="1438" width="40" height="58" rx="5" fill="#2e3430"/>
<line x1="7365" y1="1270" x2="7365" y2="1290" stroke="#e8845a" stroke-width="3"/>
</g>

<!-- village + tower -->
<g>
<line x1="7025" y1="1920" x2="7025" y2="2124" stroke="#8a6a4a" stroke-width="4"/>
<line x1="7010" y1="2060" x2="7040" y2="2075" stroke="#888" stroke-width="3"/>
<rect x="6988" y="2118" width="44" height="34" fill="none" stroke="#5fb5b5" stroke-width="4"/>
<path d="M6995,2152 L6995,2295 M7028,2152 L7028,2295 M6995,2160 L7028,2190 L6995,2220 L7028,2250 L6995,2280 M7028,2160 L6995,2190 L7028,2220 L6995,2250 L7028,2280" fill="none" stroke="#5fb5b5" stroke-width="4"/>
<polygon points="6690,2300 6740,2200 6770,2240 6800,2170 6850,2260 6880,2230 6935,2300" fill="#a6dbd6"/>
<path d="M6700,2300 C6710,2240 6740,2215 6765,2225 C6790,2235 6800,2270 6805,2300Z" fill="#7cc48c" stroke="#2c5d3a" stroke-width="3"/>
<path d="M6765,2300 C6780,2230 6820,2195 6850,2210 C6880,2225 6900,2270 6905,2300Z" fill="#6ab57c" stroke="#2c5d3a" stroke-width="3"/>
<ellipse cx="6815" cy="2305" rx="115" ry="22" fill="#fff" stroke="#2c5d3a" stroke-width="3"/>
<rect x="6795" y="2262" width="45" height="38" fill="#f4f0ea" stroke="#555" stroke-width="2"/>
<polygon points="6790,2264 6817,2240 6845,2264" fill="#c0504d"/>
<g fill="#4f9a5f"><polygon points="6720,2320 6735,2270 6750,2320"/><polygon points="6895,2320 6910,2272 6925,2320"/><polygon points="6880,2330 6892,2290 6904,2330"/></g>
</g>
<line x1="6928" y1="2188" x2="6928" y2="2322" stroke="#111" stroke-width="6"/>
<use href="#radio" transform="translate(6906,2320) scale(0.9,0.87)"/>
<text class="lb" x="6471" y="2443" textLength="356" lengthAdjust="spacingAndGlyphs">支持覆盖到村</text>

<!-- bottom right: radio, trucks, building -->
<line x1="5013" y1="2839" x2="5013" y2="3075" stroke="#1b1b1b" stroke-width="9"/>
<use href="#radio" transform="translate(4979,3070) scale(1.78,1.75)"/>
<use href="#truck" transform="translate(5671,2817) scale(0.635)"/>
<use href="#truck" transform="translate(5671,2975) scale(0.635)"/>
<use href="#truck" transform="translate(5671,3124) scale(0.635)"/>
<use href="#truck" transform="translate(5671,3272) scale(0.635)"/>
<use href="#ff" transform="translate(5870,2760) scale(1.25,1.0)"/>
<use href="#ff" transform="translate(5870,2913) scale(1.25,1.0)"/>
<use href="#ff" transform="translate(5870,3060) scale(1.25,1.0)"/>
<use href="#ff" transform="translate(5870,3210) scale(1.25,1.0)"/>

<g>
<rect x="6038" y="2652" width="321" height="708" fill="url(#winB)"/>
<rect x="6080" y="2600" width="90" height="60" fill="#dfe3e2"/>
<rect x="6170" y="2575" width="90" height="85" fill="#e6e9e8"/>
<rect x="6038" y="2652" width="60" height="708" fill="#e4e8e6" opacity="0.6"/>
<rect x="6118" y="2652" width="12" height="708" fill="#fafafa"/>
<rect x="6270" y="2652" width="89" height="708" fill="#dfe4e2" opacity="0.5"/>
<rect x="6038" y="3300" width="321" height="60" fill="#fff" opacity="0.5"/>
<path d="M6235,2650 C6205,2700 6200,2740 6230,2755 C6260,2760 6275,2735 6262,2700 C6258,2715 6250,2715 6248,2700 C6248,2680 6240,2665 6235,2650Z" fill="#f07a2a"/>
<path d="M6233,2705 C6222,2725 6225,2748 6238,2750 C6252,2748 6252,2725 6233,2705Z" fill="#fbd24a"/>
<ellipse cx="6230" cy="2630" rx="50" ry="30" fill="#888" opacity="0.35"/>
</g>

<g>
<rect x="6893" y="2656" width="34" height="400" rx="17" fill="#1b1b1b"/>
<rect x="6882" y="2990" width="56" height="170" rx="20" fill="#1b1b1b"/>
<rect x="6950" y="3060" width="38" height="100" rx="8" fill="#262626"/>
<rect x="6998" y="3098" width="34" height="62" rx="6" fill="#262626"/>
<rect x="7002" y="3090" width="26" height="14" fill="#e0502d"/>
<rect x="6853" y="3150" width="278" height="614" rx="18" fill="#1e2124"/>
<rect x="7110" y="3200" width="21" height="300" fill="#2a2e33"/>
<circle cx="7120" cy="3232" r="9" fill="#e4892b"/>
<rect x="7111" y="3280" width="18" height="55" rx="6" fill="#4aa84f"/>
<rect x="7111" y="3355" width="18" height="55" rx="6" fill="#4aa84f"/>
<rect x="6885" y="3190" width="200" height="100" rx="10" fill="#2a2d31"/>
<g stroke="#3a3e44" stroke-width="5"><line x1="6900" y1="3210" x2="7070" y2="3210"/><line x1="6900" y1="3230" x2="7070" y2="3230"/><line x1="6900" y1="3250" x2="7070" y2="3250"/><line x1="6900" y1="3270" x2="7070" y2="3270"/></g>
<text x="6985" y="3322" font-size="24" fill="#ddd" text-anchor="middle">Victel</text>
<rect x="6885" y="3335" width="200" height="175" rx="14" fill="#8f9893"/>
<rect x="6897" y="3347" width="176" height="151" rx="8" fill="#b9c1bc"/>
<polygon points="6985,3380 7010,3395 7010,3425 6985,3440 6960,3425 6960,3395" fill="#3b6f86"/>
<text x="6985" y="3480" font-size="18" font-weight="700" fill="#333" text-anchor="middle">维德科技</text>
<text x="6985" y="3550" font-size="28" fill="#bbb" text-anchor="middle">K1</text>
<g fill="#3a3e43">
<rect x="6900" y="3575" width="44" height="26" rx="6"/><rect x="6962" y="3575" width="44" height="26" rx="6"/><rect x="7024" y="3575" width="44" height="26" rx="6"/>
<rect x="6900" y="3612" width="44" height="26" rx="6"/><rect x="6962" y="3612" width="44" height="26" rx="6"/><rect x="7024" y="3612" width="44" height="26" rx="6"/>
<rect x="6900" y="3649" width="44" height="26" rx="6"/><rect x="6962" y="3649" width="44" height="26" rx="6"/><rect x="7024" y="3649" width="44" height="26" rx="6"/>
<rect x="6900" y="3686" width="44" height="26" rx="6"/><rect x="6962" y="3686" width="44" height="26" rx="6"/><rect x="7024" y="3686" width="44" height="26" rx="6"/>
</g>
<g stroke="#555" stroke-width="3"><line x1="6900" y1="3728" x2="7080" y2="3728"/><line x1="6900" y1="3740" x2="7060" y2="3740"/><line x1="6900" y1="3752" x2="7070" y2="3752"/></g>
</g>

<!-- BUBBLES -->
<g fill="#000" opacity="0.17" filter="url(#bl)">
<rect x="2038" y="1290" width="1090" height="139" rx="70"/>
<rect x="2135" y="3003" width="1060" height="137" rx="70"/>
<rect x="1347" y="3169" width="984" height="137" rx="70"/>
<rect x="3686" y="3044" width="1171" height="140" rx="70"/>
<rect x="3639" y="3238" width="1210" height="139" rx="70"/>
<rect x="4243" y="3599" width="2305" height="139" rx="70"/>
<rect x="5304" y="792" width="623" height="139" rx="70"/>
<rect x="6346" y="1118" width="853" height="141" rx="70"/>
<rect x="5620" y="2056" width="987" height="140" rx="70"/>
</g>
<g fill="#f2f2f2" stroke="#4d4d4d" stroke-width="4" stroke-linejoin="round">
<rect x="2038" y="1262" width="1090" height="139" rx="70" ry="55"/>
<path d="M3080,1395 L3236,1462 L3118,1368"/>
<rect x="2135" y="2975" width="1060" height="137" rx="70" ry="55"/>
<path d="M2141,3025 L1990,3040 L2141,3058"/>
<rect x="1347" y="3141" width="984" height="137" rx="70" ry="55"/>
<path d="M1353,3195 L1196,3205 L1353,3225"/>
<rect x="3686" y="3016" width="1171" height="140" rx="70" ry="55"/>
<path d="M4851,3070 L4979,3082 L4851,3100"/>
<rect x="3639" y="3210" width="1210" height="139" rx="70" ry="55"/>
<path d="M4843,3262 L4979,3278 L4843,3292"/>
<rect x="4243" y="3571" width="2305" height="139" rx="70" ry="55"/>
<path d="M6202,3577 L6209,3360 L6222,3577" stroke-width="3"/>
<rect x="5304" y="764" width="623" height="139" rx="70" ry="55"/>
<path d="M5890,893 L6011,994 L5918,870"/>
<rect x="6346" y="1090" width="853" height="141" rx="70" ry="55"/>
<path d="M6712,1225 L6722,1380 L6736,1225"/>
<rect x="5620" y="2028" width="987" height="140" rx="70" ry="55"/>
<path d="M6585,2140 L6722,2214 L6600,2110"/>
</g>
<g>
<text class="lb" x="2184" y="1352" textLength="798" lengthAdjust="spacingAndGlyphs">K1与消防车基站打通百层大楼</text>
<text class="lb" x="2256" y="3064" textLength="791" lengthAdjust="spacingAndGlyphs">K1与消防车基站打通两层地下</text>
<text class="lb" x="1481" y="3231" textLength="716" lengthAdjust="spacingAndGlyphs">K1接力中继地下3层4层5层</text>
<text class="lb" x="3842" y="3107" textLength="864" lengthAdjust="spacingAndGlyphs">K1支持单呼、组呼、全呼、强插</text>
<text class="lb" x="3782" y="3301" textLength="924" lengthAdjust="spacingAndGlyphs">K1支持现场直通4—6信道动态分配</text>
<text class="lb" x="4485" y="3661" textLength="1821" lengthAdjust="spacingAndGlyphs">全省使用相同的F0单频DMT集群直通，解决单频不足，组网不顺问题</text>
<text class="lb" x="5408" y="854" textLength="415" lengthAdjust="spacingAndGlyphs">支持直升机通信</text>
<text class="lb" x="6471" y="1181" textLength="607" lengthAdjust="spacingAndGlyphs">隧道涵洞覆盖＞10公里</text>
<text class="lb" x="5749" y="2119" textLength="726" lengthAdjust="spacingAndGlyphs">彻底覆盖，优于公网覆盖面</text>
</g>
</svg>
</body></html>
